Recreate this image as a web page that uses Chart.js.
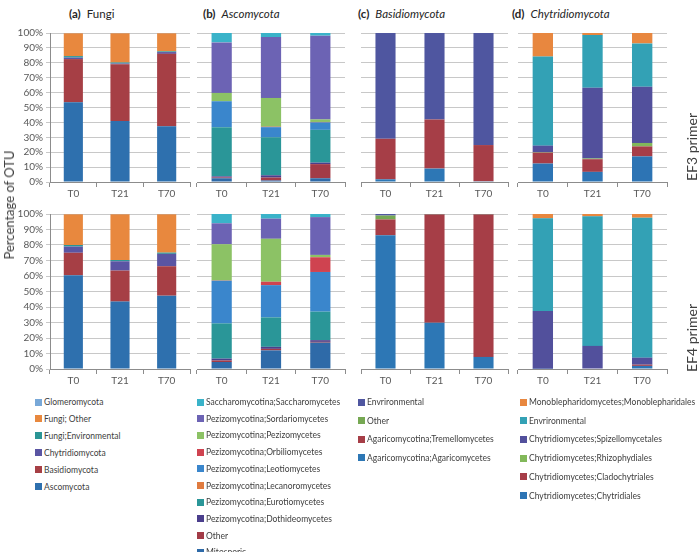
<!DOCTYPE html>
<html>
<head>
<meta charset="utf-8">
<script src="https://cdn.jsdelivr.net/npm/chart.js@4.4.1/dist/chart.umd.min.js"></script>
<style>
  html, body { margin: 0; padding: 0; background: #fff; }
  #wrap { position: relative; width: 700px; height: 552px; overflow: hidden; font-family: Lato, 'Open Sans', sans-serif; color: #404040; }
  canvas { position: absolute; }
  .title { position: absolute; font-size: 11.5px; color: #262626; white-space: nowrap; line-height: 14px; }
  .title b { margin-right: 6px; }
  .title i { font-style: italic; }
  .side { position: absolute; font-size: 14px; color: #404040; white-space: nowrap; transform: translate(-50%, -50%) rotate(-90deg); }
  .leg { position: absolute; font-size: 8.5px; white-space: nowrap; line-height: 12px; transform: translateY(-50%); }
  .leg span { display: inline-block; width: 7px; height: 7px; margin-right: 2px; vertical-align: -0.5px; }
</style>
</head>
<body>
<div id="wrap"></div>
<script>
// x categories
const timepoints = ['T0', 'T21', 'T70'];

// (a) Fungi - series in legend order (top of the stack first)
const fungiGroups = ['Glomeromycota', 'Fungi; Other', 'Fungi;Environmental', 'Chytridiomycota', 'Basidiomycota', 'Ascomycota'];
const fungiColors = ['#78A8D8', '#E8883E', '#2A9595', '#5A55A3', '#A63F45', '#2E70AE'];
const fungiEF3 = [
    [0.2, 0.2, 0.2],
    [15.3, 19.6, 12.1],
    [1.0, 0.7, 0.5],
    [1.0, 0.5, 1.2],
    [29.0, 38.0, 48.5],
    [53.5, 41.0, 37.5]
];
const fungiEF4 = [
    [0.2, 0.2, 0.2],
    [19.8, 29.5, 24.7],
    [1.0, 0.8, 0.8],
    [4.0, 6.0, 8.0],
    [14.5, 20.0, 19.0],
    [60.5, 43.5, 47.3]
];

// (b) Ascomycota
const ascoGroups = ['Saccharomycotina;Saccharomycetes', 'Pezizomycotina;Sordariomycetes', 'Pezizomycotina;Pezizomycetes',
    'Pezizomycotina;Orbiliomycetes', 'Pezizomycotina;Leotiomycetes', 'Pezizomycotina;Lecanoromycetes',
    'Pezizomycotina;Eurotiomycetes', 'Pezizomycotina;Dothideomycetes', 'Other', 'Mitosporic'];
const ascoColors = ['#3AB3C9', '#6C63B4', '#8CC265', '#CF4350', '#3A86CC', '#E07B3F', '#2A9698', '#4A3E8C', '#A23B47', '#2E6AA8'];
const ascoEF3 = [
    [6.3, 2.7, 1.8],
    [33.9, 40.9, 56.2],
    [5.6, 19.3, 1.7],
    [0, 0.3, 0.3],
    [17.4, 6.8, 5.0],
    [0, 0, 0],
    [33.0, 25.5, 22.0],
    [0.8, 1.5, 1.0],
    [0.5, 2.0, 9.5],
    [2.5, 1.0, 2.5]
];
const ascoEF4 = [
    [6.0, 3.0, 2.0],
    [13.5, 13.0, 24.4],
    [23.4, 27.7, 1.5],
    [0.2, 2.2, 9.5],
    [27.5, 20.8, 25.6],
    [0, 0, 0],
    [22.7, 19.0, 18.4],
    [1.2, 1.3, 1.1],
    [1.0, 1.0, 0.5],
    [4.5, 12.0, 17.0]
];

// (c) Basidiomycota
const basidioGroups = ['Envrironmental', 'Other', 'Agaricomycotina;Tremellomycetes', 'Agaricomycotina;Agaricomycetes'];
const basidioColors = ['#4F56A0', '#76A853', '#A63E47', '#2D77B5'];
const basidioEF3 = [
    [71.0, 58.0, 75.2],
    [0, 0, 0],
    [27.2, 33.0, 24.3],
    [1.8, 9.0, 0.5]
];
const basidioEF4 = [
    [1.0, 0.2, 0.2],
    [2.5, 0.2, 0.2],
    [10.2, 69.7, 91.8],
    [86.3, 29.9, 7.8]
];

// (d) Chytridiomycota
const chytridGroups = ['Monoblepharidomycetes;Monoblepharidales', 'Envrironmental', 'Chytridiomycetes;Spizellomycetales',
    'Chytridiomycetes;Rhizophydiales', 'Chytridiomycetes;Cladochytriales', 'Chytridiomycetes;Chytridiales'];
const chytridColors = ['#E8873F', '#33A1B5', '#52509C', '#82B85A', '#A63D48', '#2D74B4'];
const chytridEF3 = [
    [15.8, 1.4, 7.0],
    [59.8, 35.4, 29.1],
    [4.4, 47.4, 37.7],
    [0.3, 0.5, 2.3],
    [7.3, 8.5, 6.7],
    [12.4, 6.8, 17.2]
];
const chytridEF4 = [
    [2.8, 1.5, 2.4],
    [59.7, 83.6, 90.3],
    [37.3, 14.9, 4.5],
    [0, 0, 0],
    [0, 0, 0.8],
    [0.2, 0, 2.0]
];

const wrap = document.getElementById('wrap');
const axisGrey = '#8C8C8C';
const gridGrey = '#C8C8C8';
const tickText = '#595959';
const fontFamily = "Lato, 'Open Sans', sans-serif";

function makePanel(plotLeft, plotWidth, plotTop, plotBottom, groups, colors, values, showY) {
    const padTop = 10, axisH = 18, side = showY ? plotLeft : 6;
    const canvas = document.createElement('canvas');
    canvas.width = side + plotWidth + 6;
    canvas.height = padTop + (plotBottom - plotTop) + axisH;
    canvas.style.left = (plotLeft - side) + 'px';
    canvas.style.top = (plotTop - padTop) + 'px';
    wrap.appendChild(canvas);

    // Chart.js stacks the first dataset at the bottom, so reverse the legend order
    const datasets = groups.map((g, i) => ({
        label: g,
        data: values[i],
        backgroundColor: colors[i],
        borderWidth: 0,
        barPercentage: 0.41,
        categoryPercentage: 1.0
    })).reverse();

    return new Chart(canvas.getContext('2d'), {
        type: 'bar',
        data: { labels: timepoints, datasets: datasets },
        options: {
            responsive: false,
            animation: false,
            devicePixelRatio: 1,
            layout: { padding: { top: padTop, left: showY ? 0 : side, right: 6, bottom: 0 } },
            plugins: { legend: { display: false }, tooltip: { enabled: false } },
            scales: {
                x: {
                    stacked: true,
                    grid: { display: true, drawOnChartArea: false, tickLength: 5, color: axisGrey },
                    border: { display: true, color: axisGrey },
                    ticks: { padding: 1, color: tickText, font: { family: fontFamily, size: 10 } },
                    afterFit: s => { s.height = axisH; }
                },
                y: {
                    stacked: true,
                    min: 0,
                    max: 100,
                    grid: { color: gridGrey, drawTicks: showY, tickLength: 4 },
                    border: { display: showY, color: axisGrey },
                    ticks: {
                        display: showY,
                        autoSkip: false,
                        stepSize: 10,
                        padding: 3,
                        color: tickText,
                        font: { family: fontFamily, size: 10 },
                        callback: v => v + '%'
                    },
                    afterFit: s => { s.width = showY ? side : 0; }
                }
            }
        }
    });
}

// panel columns: plot left and width
const cols = [[50, 140], [197, 148], [361, 147], [518, 149]];
const rows = [[33, 182], [214, 369]];

makePanel(cols[0][0], cols[0][1], rows[0][0], rows[0][1], fungiGroups, fungiColors, fungiEF3, true);
makePanel(cols[1][0], cols[1][1], rows[0][0], rows[0][1], ascoGroups, ascoColors, ascoEF3, false);
makePanel(cols[2][0], cols[2][1], rows[0][0], rows[0][1], basidioGroups, basidioColors, basidioEF3, false);
makePanel(cols[3][0], cols[3][1], rows[0][0], rows[0][1], chytridGroups, chytridColors, chytridEF3, false);
makePanel(cols[0][0], cols[0][1], rows[1][0], rows[1][1], fungiGroups, fungiColors, fungiEF4, true);
makePanel(cols[1][0], cols[1][1], rows[1][0], rows[1][1], ascoGroups, ascoColors, ascoEF4, false);
makePanel(cols[2][0], cols[2][1], rows[1][0], rows[1][1], basidioGroups, basidioColors, basidioEF4, false);
makePanel(cols[3][0], cols[3][1], rows[1][0], rows[1][1], chytridGroups, chytridColors, chytridEF4, false);

// panel titles
const titles = [
    ['(a)', 'Fungi', false, 69],
    ['(b)', 'Ascomycota', true, 203],
    ['(c)', 'Basidiomycota', true, 358],
    ['(d)', 'Chytridiomycota', true, 512]
];
titles.forEach(t => {
    const d = document.createElement('div');
    d.className = 'title';
    d.style.left = t[3] + 'px';
    d.style.top = '7px';
    d.innerHTML = '<b>' + t[0] + '</b>' + (t[2] ? '<i>' + t[1] + '</i>' : t[1]);
    wrap.appendChild(d);
});

function sideLabel(text, x, y, size) {
    const d = document.createElement('div');
    d.className = 'side';
    d.style.left = x + 'px';
    d.style.top = y + 'px';
    d.style.fontSize = size + 'px';
    d.textContent = text;
    wrap.appendChild(d);
}
sideLabel('Percentage of OTU', 9, 205, 13);
sideLabel('EF3 primer', 691, 147, 14);
sideLabel('EF4 primer', 691, 338, 14);

// legends, one column per panel
function legend(groups, colors, x, y0, step) {
    groups.forEach((g, i) => {
        const d = document.createElement('div');
        d.className = 'leg';
        d.style.left = x + 'px';
        d.style.top = (y0 + i * step) + 'px';
        d.innerHTML = '<span style="background:' + colors[i] + '"></span>' + g;
        wrap.appendChild(d);
    });
}
legend(fungiGroups, fungiColors, 35, 402, 16.9);
legend(ascoGroups, ascoColors, 197, 402, 16.7);
legend(basidioGroups, basidioColors, 358, 402, 18.5);
legend(chytridGroups, chytridColors, 520, 402, 18.7);
</script>
</body>
</html>
